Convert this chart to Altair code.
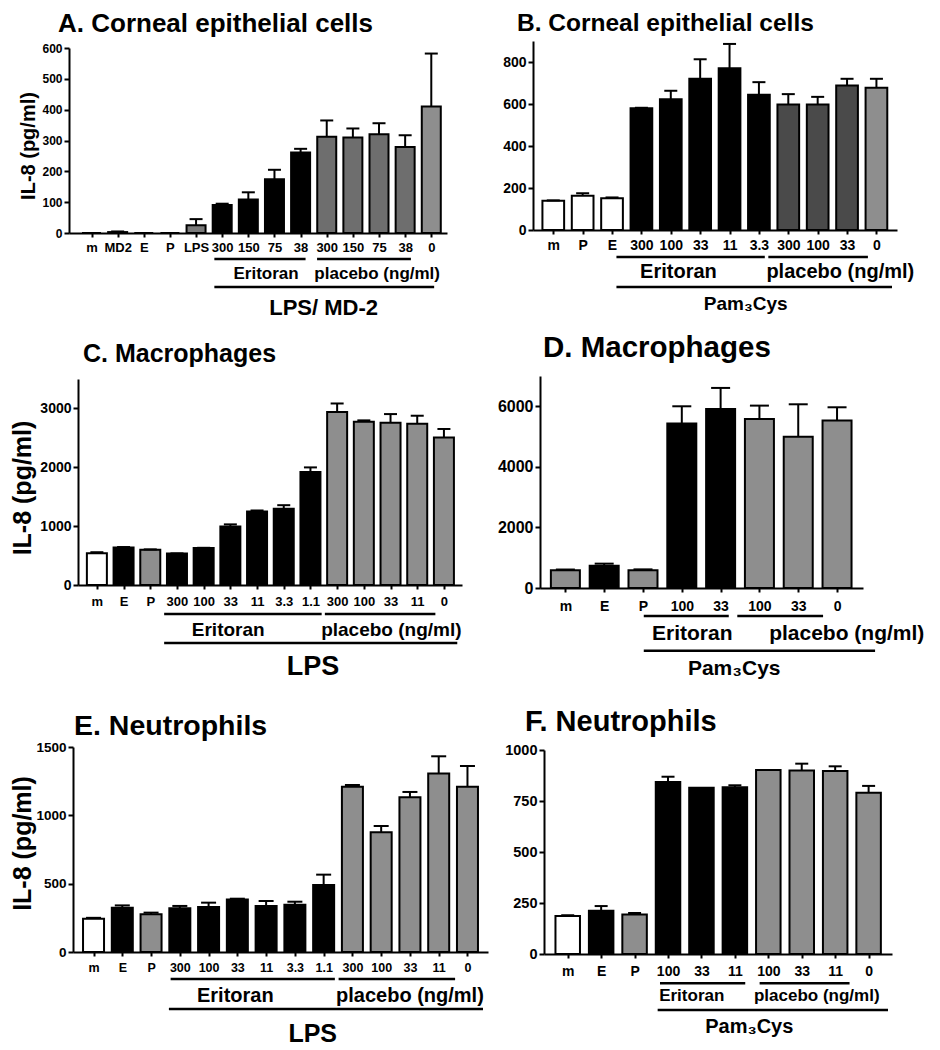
import altair as alt
import pandas as pd

FONT = "Liberation Sans"
COLORS = {"white": "#ffffff", "black": "#000000", "lps": "#7a7a7a",
          "dark": "#6e6e6e", "darker": "#4a4a4a", "gray": "#8e8e8e"}

TXT_ERI = "Eritoran"
TXT_PLA = "placebo (ng/ml)"
YTITLE = "IL-8 (pg/ml)"

# ---------------- data ----------------
A_title = "A. Corneal epithelial cells"
A_labels = ["m", "MD2", "E", "P", "LPS", "300", "150", "75", "38", "300", "150", "75", "38", "0"]
A_values = [0, 3, 0, 0, 25, 91, 109, 174, 261, 312, 310, 320, 279, 410]
A_tops = [0, 5, 0, 0, 45, 95, 132, 205, 273, 365, 339, 356, 317, 582]
A_fills = ["white"] * 4 + ["lps"] + ["black"] * 4 + ["dark"] * 4 + ["gray"]
A_group = "LPS/ MD-2"

B_title = "B. Corneal epithelial cells"
B_labels = ["m", "P", "E", "300", "100", "33", "11", "3.3", "300", "100", "33", "0"]
B_values = [139, 163, 151, 580, 623, 720, 770, 644, 598, 598, 688, 677]
B_tops = [141, 175, 155, 582, 663, 813, 886, 704, 647, 634, 720, 720]
B_fills = ["white"] * 3 + ["black"] * 5 + ["darker"] * 3 + ["gray"]
B_group = "Pam\u2083Cys"

C_title = "C. Macrophages"
C_labels = ["m", "E", "P", "300", "100", "33", "11", "3.3", "1.1", "300", "100", "33", "11", "0"]
C_values = [540, 636, 597, 535, 630, 996, 1250, 1295, 1919, 2938, 2775, 2758, 2741, 2505]
C_tops = [557, 645, 605, 537, 632, 1030, 1266, 1356, 1998, 3084, 2797, 2904, 2876, 2651]
C_fills = ["white", "black", "gray"] + ["black"] * 6 + ["gray"] * 5
C_group = "LPS"

D_title = "D. Macrophages"
D_labels = ["m", "E", "P", "100", "33", "100", "33", "0"]
D_values = [583, 738, 583, 5428, 5912, 5582, 4998, 5527]
D_tops = [610, 804, 615, 6000, 6606, 6022, 6066, 5967]
D_fills = ["gray", "black", "gray", "black", "black", "gray", "gray", "gray"]
D_group = "Pam\u2083Cys"

E_title = "E. Neutrophils"
E_labels = ["m", "E", "P", "300", "100", "33", "11", "3.3", "1.1", "300", "100", "33", "11", "0"]
E_values = [244, 324, 276, 320, 329, 385, 337, 346, 490, 1210, 876, 1132, 1307, 1209]
E_tops = [250, 341, 288, 337, 361, 390, 373, 368, 566, 1222, 922, 1171, 1432, 1361]
E_fills = ["white", "black", "gray"] + ["black"] * 6 + ["gray"] * 5
E_group = "LPS"

F_title = "F. Neutrophils"
F_labels = ["m", "E", "P", "100", "33", "11", "100", "33", "11", "0"]
F_values = [186, 212, 194, 843, 815, 817, 902, 900, 897, 791]
F_tops = [190, 235, 201, 869, 815, 827, 902, 933, 920, 824]
F_fills = ["white", "black", "gray"] + ["black"] * 3 + ["gray"] * 4
F_group = "Pam\u2083Cys"

# ---------------- layout / style ----------------
# L,T: page position of the plot's top-left corner; W,H: plot size;
# cell: page box (left, top, right, bottom) given to the panel.
ST = {
    "A": dict(L=69, T=48, W=378, H=185, padL=0.67, padR=0.41, ymax=600, yticks=[0, 100, 200, 300, 400, 500, 600],
              xfs=13, yfs=12, xpad=4, bw=19, cap=6.5, tfs=26, tdx=-11, tdy=-16,
              ytitle=True, ytfs=20, ytx=-41, yty=97.5,
              br1=211, br1x=[(4.7, 8.19), (8.63, 12.22)], br2=239, br2x=[(4.7, 13.11)],
              lab_y=231, lab_fs=17, lab_x=[6.68, 10.93], grp_x=8.88, grp_y=267, grp_fs=22,
              cell=(8, 8, 470, 328)),
    "B": dict(L=533, T=41, W=364, H=189, padL=0.52, padR=0.53, ymax=900, yticks=[0, 200, 400, 600, 800],
              xfs=14, yfs=14, xpad=4, bw=21.7, cap=6.5, tfs=24.5, tdx=-16, tdy=-10.5,
              ytitle=False,
              br1=216, br1x=[(2.15, 7.2), (7.32, 10.71)], br2=246, br2x=[(2.15, 11.53)],
              lab_y=237, lab_fs=20, lab_x=[4.26, 9.77], grp_x=6.55, grp_y=269, grp_fs=19,
              cell=(470, 8, 931, 328)),
    "C": dict(L=78, T=379, W=384, H=206, padL=0.52, padR=0.49, ymax=3500, yticks=[0, 1000, 2000, 3000],
              xfs=13, yfs=14, xpad=6, bw=20, cap=6.5, tfs=25, tdx=5, tdy=-17,
              ytitle=True, ytfs=25, ytx=-56, yty=108.5,
              br1=235, br1x=[(2.52, 8.42), (8.54, 12.68)], br2=264, br2x=[(2.52, 13.5)],
              lab_y=257, lab_fs=19, lab_x=[4.92, 11.03], grp_x=8.1, grp_y=296, grp_fs=27,
              cell=(8, 328, 470, 688)),
    "D": dict(L=540, T=376, W=323, H=212, padL=0.525, padR=0.54, ymax=7000, yticks=[0, 2000, 4000, 6000],
              xfs=14, yfs=16, xpad=7, bw=29, cap=9.5, tfs=29.5, tdx=3, tdy=-19,
              ytitle=False,
              br1=240, br1x=[(2.02, 4.21), (4.43, 6.64)], br2=274.7, br2x=[(2.02, 7.98)],
              lab_y=264, lab_fs=21, lab_x=[3.27, 7.25], grp_x=4.35, grp_y=299, grp_fs=21,
              cell=(470, 328, 931, 688)),
    "E": dict(L=73, T=747, W=415, H=205, padL=0.54, padR=0.54, ymax=1500, yticks=[0, 500, 1000, 1500],
              xfs=12.5, yfs=13.5, xpad=5.5, bw=21, cap=7.5, tfs=28.5, tdx=1, tdy=-12,
              ytitle=True, ytfs=25, ytx=-51, yty=96,
              br1=232, br1x=[(2.68, 8.39), (8.52, 12.57)], br2=262, br2x=[(2.62, 13.54)],
              lab_y=254.7, lab_fs=20, lab_x=[4.93, 11.0], grp_x=7.62, grp_y=295, grp_fs=25,
              cell=(8, 688, 492, 1048)),
    "F": dict(L=544, T=750, W=348, H=204, padL=0.56, padR=0.55, ymax=1000, yticks=[0, 250, 500, 750, 1000],
              xfs=14, yfs=14.5, xpad=6, bw=24.5, cap=6.5, tfs=29, tdx=-19, tdy=-19,
              ytitle=False,
              br1=233.3, br1x=[(2.76, 5.31), (5.74, 8.43)], br2=260, br2x=[(2.69, 9.58)],
              lab_y=250.7, lab_fs=17, lab_x=[3.71, 7.45], grp_x=5.43, grp_y=283, grp_fs=20,
              cell=(492, 688, 931, 1048)),
}


def build_panel(title, labels, values, tops, fills, group, st):
    n = len(labels)
    cl, ct, cr, cb = st["cell"]
    ox, oy = st["L"] - cl, st["T"] - ct          # plot origin inside the cell
    df = pd.DataFrame({"idx": list(range(n)), "label": labels, "value": values,
                       "top": tops, "fill": fills})
    err = df[df["top"] > df["value"] + 0.5]
    xsc = alt.Scale(domain=[-st["padL"], n - 1 + st["padR"]], range=[ox, ox + st["W"]],
                    nice=False, zero=False)
    ysc = alt.Scale(domain=[0, st["ymax"]], range=[oy + st["H"], oy], nice=False, zero=True)
    arr = ",".join("'" + l + "'" for l in labels)
    xaxis = alt.Axis(values=list(range(n)), labelExpr="[" + arr + "][datum.value]", title=None,
                     offset=st["T"] + st["H"] - cb,
                     grid=False, domainColor="black", domainWidth=2, tickColor="black",
                     tickWidth=2, tickSize=4, labelFont=FONT, labelFontWeight="bold",
                     labelFontSize=st["xfs"], labelColor="black", labelPadding=st["xpad"],
                     labelOverlap=False, labelFlush=False)
    ykw = dict(values=st["yticks"], format="d", offset=-ox, grid=False, domainColor="black",
               domainWidth=2, tickColor="black", tickWidth=2, tickSize=5, labelFont=FONT,
               labelFontWeight="bold", labelFontSize=st["yfs"], labelColor="black",
               labelPadding=2, labelFlush=False, labelOverlap=False)
    if st["ytitle"]:
        ykw.update(title=YTITLE, titleFont=FONT, titleFontWeight="bold",
                   titleFontSize=st["ytfs"], titleColor="black", titleAngle=270,
                   titleAlign="center", titleBaseline="middle",
                   titleX=st["ytx"], titleY=oy + st["yty"])
    else:
        ykw.update(title=None)
    yaxis = alt.Axis(**ykw)
    X = lambda f: alt.X(f, scale=xsc, axis=xaxis)

    bars = alt.Chart(df).mark_bar(size=st["bw"], stroke="black", strokeWidth=2).encode(
        x=X("idx:Q"),
        y=alt.Y("value:Q", scale=ysc, axis=yaxis),
        fill=alt.Fill("fill:N", scale=alt.Scale(domain=list(COLORS.keys()),
                                                range=list(COLORS.values())), legend=None))
    stems = alt.Chart(err).mark_rule(color="black", strokeWidth=2).encode(
        x=X("idx:Q"), y=alt.Y("value:Q", scale=ysc, axis=yaxis), y2="top:Q")
    caps = alt.Chart(err).mark_rule(color="black", strokeWidth=2,
                                    xOffset=-st["cap"], x2Offset=st["cap"]).encode(
        x=X("idx:Q"), x2="idx:Q", y=alt.Y("top:Q", scale=ysc, axis=yaxis))

    layers = [bars, stems, caps]
    for ypix, spans in ((st["br1"], st["br1x"]), (st["br2"], st["br2x"])):
        bdf = pd.DataFrame({"x0": [s[0] for s in spans], "x1": [s[1] for s in spans]})
        layers.append(alt.Chart(bdf).mark_rule(color="black", strokeWidth=2.5, y=oy + ypix).encode(
            x=X("x0:Q"), x2="x1:Q"))
    for txt, xc in zip([TXT_ERI, TXT_PLA], st["lab_x"]):
        layers.append(alt.Chart(pd.DataFrame({"t": [txt], "xc": [xc]})).mark_text(
            y=oy + st["lab_y"], baseline="alphabetic", align="center", font=FONT,
            fontWeight="bold", fontSize=st["lab_fs"], color="black").encode(
            x=X("xc:Q"), text="t:N"))
    layers.append(alt.Chart(pd.DataFrame({"t": [group], "xc": [st["grp_x"]]})).mark_text(
        y=oy + st["grp_y"], baseline="alphabetic", align="center", font=FONT,
        fontWeight="bold", fontSize=st["grp_fs"], color="black").encode(
        x=X("xc:Q"), text="t:N"))
    layers.append(alt.Chart(pd.DataFrame({"t": [title]})).mark_text(
        x=ox + st["tdx"], y=oy + st["tdy"], baseline="alphabetic", align="left", font=FONT,
        fontWeight="bold", fontSize=st["tfs"], color="black").encode(text="t:N"))
    return alt.layer(*layers).properties(width=cr - cl, height=cb - ct)


pA = build_panel(A_title, A_labels, A_values, A_tops, A_fills, A_group, ST["A"])
pB = build_panel(B_title, B_labels, B_values, B_tops, B_fills, B_group, ST["B"])
pC = build_panel(C_title, C_labels, C_values, C_tops, C_fills, C_group, ST["C"])
pD = build_panel(D_title, D_labels, D_values, D_tops, D_fills, D_group, ST["D"])
pE = build_panel(E_title, E_labels, E_values, E_tops, E_fills, E_group, ST["E"])
pF = build_panel(F_title, F_labels, F_values, F_tops, F_fills, F_group, ST["F"])

chart = alt.vconcat(
    alt.hconcat(pA, pB, spacing=0),
    alt.hconcat(pC, pD, spacing=0),
    alt.hconcat(pE, pF, spacing=0),
    spacing=0,
).properties(padding=0).configure_view(strokeWidth=0)

chart.save("out.html", embed_options={"renderer": "svg", "actions": False})
